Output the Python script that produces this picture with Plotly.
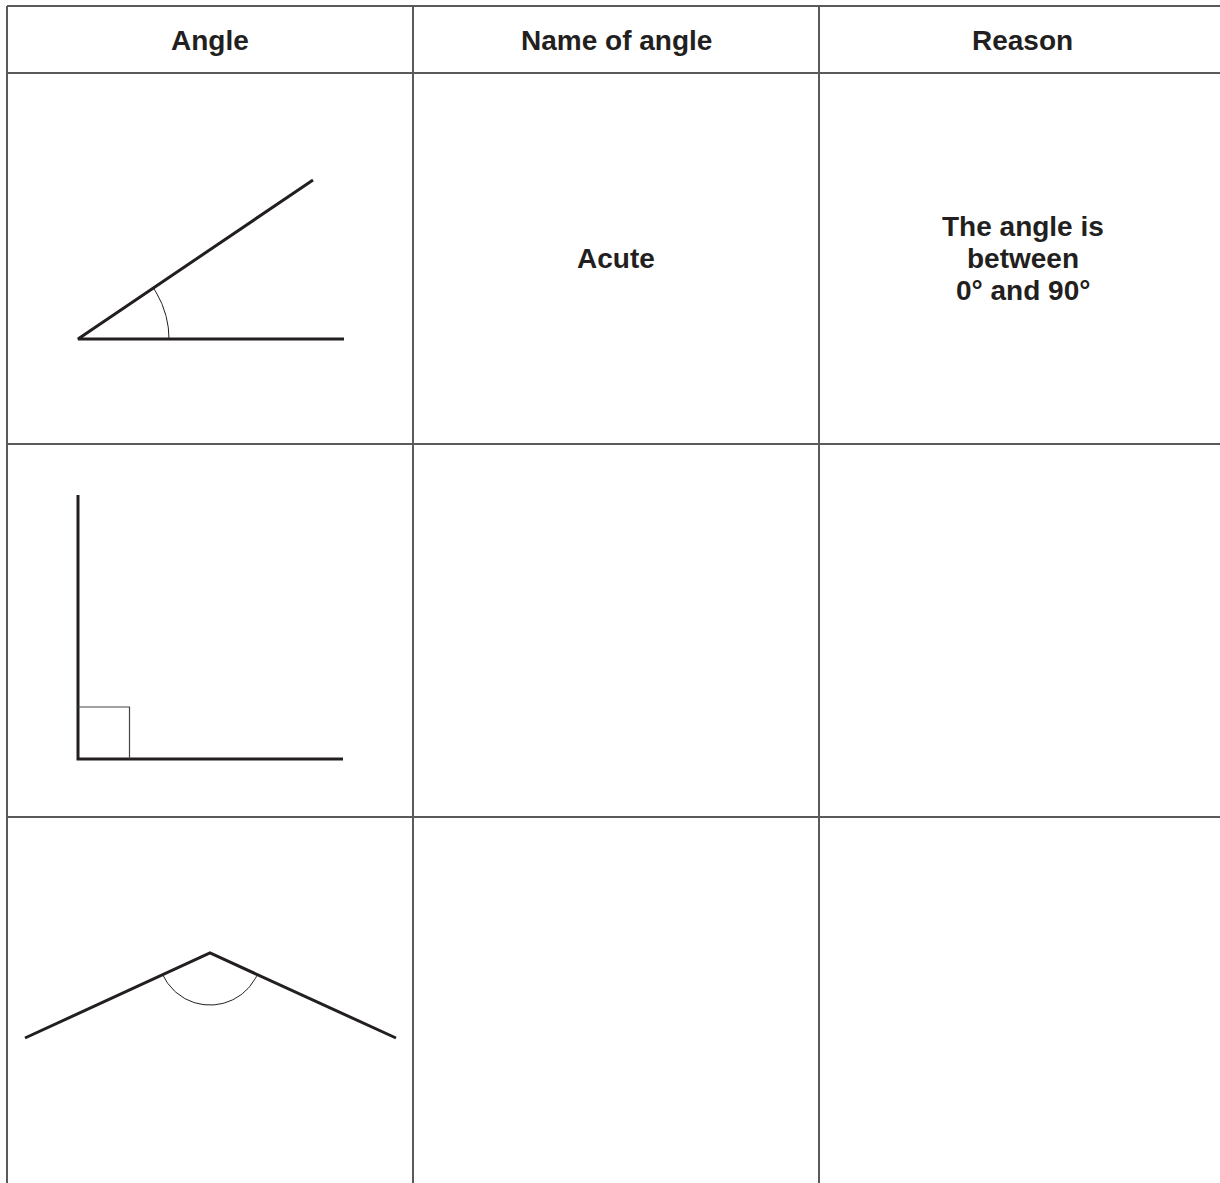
"""Angle worksheet table redrawn with Plotly shapes and annotations."""

import numpy as np
import plotly.graph_objects as go

# table grid (pixel coordinates of the page)
col_edges = [7, 413, 819, 1226]
row_edges = [6, 73, 444, 817, 1190]

headers = ["Angle", "Name of angle", "Reason"]
angle_names = ["Acute", "", ""]
reason_lines = [["The angle is", "between", "0° and 90°"], [], []]

# acute angle: end of slanted arm, vertex, end of base arm
acute_x = [313, 78, 344]
acute_y = [180, 339, 339]
acute_arc = dict(cx=78, cy=339, r=91, start=0, end=34)

# right angle
right_x = [78, 78, 343]
right_y = [495, 759, 759]
right_box_x = [78, 129.5, 129.5]
right_box_y = [707, 707, 759]

# obtuse angle
obtuse_x = [25, 210, 396]
obtuse_y = [1038, 953, 1038]
obtuse_arc = dict(cx=210, cy=953, r=52, start=-155, end=-25)

INK = "#231f20"
GRID = "#5a5a5c"
FONT = "Liberation Sans, Arial, sans-serif"
PAGE_W, PAGE_H = 1220, 1183


def arc_points(cx, cy, r, start, end, n=60):
    t = np.radians(np.linspace(start, end, n))
    # y axis points downwards, so a positive angle goes up the page
    return cx + r * np.cos(t), cy - r * np.sin(t)


fig = go.Figure()

# table rules
for x in col_edges:
    fig.add_shape(type="line", x0=x, x1=x, y0=row_edges[0], y1=row_edges[-1],
                  line=dict(color=GRID, width=2))
for y in row_edges[:-1]:
    fig.add_shape(type="line", x0=col_edges[0], x1=col_edges[-1], y0=y, y1=y,
                  line=dict(color=GRID, width=2))

thick = dict(color=INK, width=3)
thin = dict(color=INK, width=1)

fig.add_trace(go.Scatter(x=acute_x, y=acute_y, mode="lines", line=thick))
ax, ay = arc_points(**acute_arc)
fig.add_trace(go.Scatter(x=ax, y=ay, mode="lines", line=thin))

fig.add_trace(go.Scatter(x=right_x, y=right_y, mode="lines", line=thick))
fig.add_trace(go.Scatter(x=right_box_x, y=right_box_y, mode="lines",
                         line=dict(color="#444", width=1.2)))

fig.add_trace(go.Scatter(x=obtuse_x, y=obtuse_y, mode="lines", line=thick))
ox, oy = arc_points(**obtuse_arc)
fig.add_trace(go.Scatter(x=ox, y=oy, mode="lines", line=thin))

text_font = dict(size=28, color=INK, family=FONT)
centres = [(a + b) / 2 for a, b in zip(col_edges[:-1], col_edges[1:])]
for cx, label in zip(centres, headers):
    fig.add_annotation(x=cx, y=40, text=f"<b>{label}</b>", showarrow=False,
                       font=text_font)

row_mid = [(a + b) / 2 for a, b in zip(row_edges[1:-1], row_edges[2:])]
for ym, name, lines in zip(row_mid, angle_names, reason_lines):
    if name:
        fig.add_annotation(x=centres[1], y=ym, text=f"<b>{name}</b>",
                           showarrow=False, font=text_font)
    for i, line in enumerate(lines):
        fig.add_annotation(x=centres[2], y=ym - 32 + 32 * i,
                           text=f"<b>{line}</b>", showarrow=False,
                           font=text_font)

fig.update_layout(
    width=PAGE_W, height=PAGE_H,
    margin=dict(l=0, r=0, t=0, b=0),
    paper_bgcolor="white", plot_bgcolor="white",
    showlegend=False,
    xaxis=dict(range=[0, PAGE_W], visible=False, fixedrange=True),
    yaxis=dict(range=[PAGE_H, 0], visible=False, fixedrange=True),
)

# drop the browser's default body margin so the page starts at 0,0
fig.write_html(
    "out.html",
    post_script="document.body.style.margin='0';",
    config={"displayModeBar": False},
)
